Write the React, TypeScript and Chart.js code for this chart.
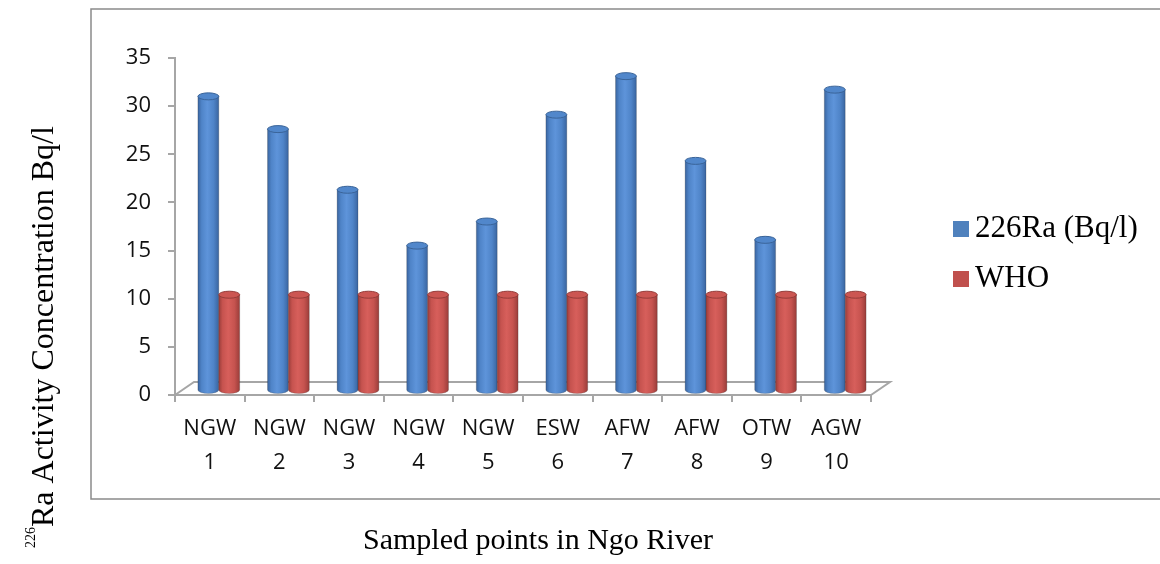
import React, { useEffect, useRef } from "react";
import { Chart, registerables } from "chart.js";

Chart.register(...registerables);

// Sampling points along the river (two-line category labels)
const sampleLabels: string[][] = [
  ["NGW", "1"], ["NGW", "2"], ["NGW", "3"], ["NGW", "4"], ["NGW", "5"],
  ["ESW", "6"], ["AFW", "7"], ["AFW", "8"], ["OTW", "9"], ["AGW", "10"],
];
// 226Ra activity concentration per point (Bq/l)
const ra226Values = [30.6, 27.2, 20.9, 15.1, 17.6, 28.7, 32.7, 23.9, 15.7, 31.3];
// WHO guidance level for each point (Bq/l)
const whoValues = [10, 10, 10, 10, 10, 10, 10, 10, 10, 10];
const seriesNames = ["226Ra (Bq/l)", "WHO"];
const yTickValues = [0, 5, 10, 15, 20, 25, 30, 35];
const xTitle = "Sampled points in Ngo River";
const yTitleSup = "226";
const yTitleMain = "Ra Activity Concentration Bq/l";

const SERIES_COLORS = ["#4F81BD", "#C0504D"];
const SHADES = [
  { dark: "#3a65a0", light: "#5e94da", mid: "#4f84c8", cap: "#5187cb", capEdge: "#3a6499" },
  { dark: "#9a3d3a", light: "#d75f5b", mid: "#c6534f", cap: "#cc5652", capEdge: "#953c39" },
];
const AXIS_COLOR = "#a6a6a6";
const FRAME_COLOR = "#8a8a8a";
const SERIF = "'Liberation Serif', 'Times New Roman', serif";
const SANS = "'Open Sans', 'Noto Sans', sans-serif";
const FLOOR_DX = 19;
const FLOOR_DY = 13;
const BAR_DX = 9;
const BAR_DY = -4;
const CAP_RY = 3.5;

// Outer frame, floor outline, cylinders, legend and axis titles
const decorPlugin = {
  id: "decor",
  beforeDraw(chart: any) {
    const ctx = chart.ctx;
    ctx.save();
    ctx.fillStyle = "#ffffff";
    ctx.fillRect(0, 0, chart.width, chart.height);
    ctx.strokeStyle = FRAME_COLOR;
    ctx.lineWidth = 1.5;
    ctx.strokeRect(91, 9, chart.width + 20, 490);
    ctx.restore();
  },
  beforeDatasetDraw() {
    return false;
  },
  afterDatasetsDraw(chart: any) {
    const ctx = chart.ctx;
    const { left, right, bottom } = chart.chartArea;
    // floor of the 3-D plot
    ctx.save();
    ctx.strokeStyle = AXIS_COLOR;
    ctx.lineWidth = 2;
    ctx.beginPath();
    ctx.moveTo(left, bottom);
    ctx.lineTo(left + FLOOR_DX, bottom - FLOOR_DY);
    ctx.lineTo(right + FLOOR_DX, bottom - FLOOR_DY);
    ctx.lineTo(right, bottom);
    ctx.stroke();
    ctx.restore();

    // cylinders
    chart.data.datasets.forEach((_ds: any, di: number) => {
      const meta = chart.getDatasetMeta(di);
      const shade = SHADES[di];
      meta.data.forEach((bar: any) => {
        const { x, y, base, width } = bar.getProps(["x", "y", "base", "width"], true);
        const cx = x + BAR_DX;
        const top = y + BAR_DY;
        const bot = base + BAR_DY;
        const rx = width / 2;
        ctx.save();
        const g = ctx.createLinearGradient(cx - rx, 0, cx + rx, 0);
        g.addColorStop(0, shade.dark);
        g.addColorStop(0.18, shade.mid);
        g.addColorStop(0.45, shade.light);
        g.addColorStop(0.75, shade.mid);
        g.addColorStop(1, shade.dark);
        ctx.beginPath();
        ctx.moveTo(cx - rx, top);
        ctx.lineTo(cx - rx, bot);
        ctx.ellipse(cx, bot, rx, CAP_RY, 0, Math.PI, 0, true);
        ctx.lineTo(cx + rx, top);
        ctx.closePath();
        ctx.fillStyle = g;
        ctx.fill();
        ctx.strokeStyle = "rgba(40,40,40,0.22)";
        ctx.lineWidth = 1;
        ctx.stroke();
        ctx.beginPath();
        ctx.ellipse(cx, top, rx, CAP_RY, 0, 0, Math.PI * 2);
        ctx.fillStyle = shade.cap;
        ctx.fill();
        ctx.strokeStyle = shade.capEdge;
        ctx.lineWidth = 1;
        ctx.stroke();
        ctx.restore();
      });
    });
  },
  afterDraw(chart: any) {
    const ctx = chart.ctx;
    ctx.save();
    // legend
    chart.data.datasets.forEach((ds: any, i: number) => {
      const y0 = 221 + i * 50;
      ctx.fillStyle = ds.backgroundColor;
      ctx.fillRect(953, y0, 16, 16);
      ctx.fillStyle = "#000000";
      ctx.font = `31px ${SERIF}`;
      ctx.textAlign = "left";
      ctx.textBaseline = "alphabetic";
      ctx.fillText(ds.label, 975, y0 + 16);
    });
    // x title
    ctx.font = `30px ${SERIF}`;
    ctx.textAlign = "center";
    ctx.fillText(xTitle, 538, 549);
    // y title with superscript
    ctx.translate(53, 548);
    ctx.rotate(-Math.PI / 2);
    ctx.textAlign = "left";
    ctx.font = `14px ${SERIF}`;
    ctx.fillText(yTitleSup, 0, -18);
    const supW = ctx.measureText(yTitleSup).width;
    ctx.font = `32px ${SERIF}`;
    ctx.fillText(yTitleMain, supW, 0);
    ctx.restore();
  },
};

export default function App() {
  const canvasRef = useRef<HTMLCanvasElement | null>(null);

  useEffect(() => {
    const canvas = canvasRef.current;
    if (!canvas) return;
    const chart = new Chart(canvas, {
      type: "bar",
      data: {
        labels: sampleLabels,
        datasets: [
          {
            label: seriesNames[0],
            data: ra226Values,
            backgroundColor: SERIES_COLORS[0],
            categoryPercentage: 0.6,
            barPercentage: 1.0,
          },
          {
            label: seriesNames[1],
            data: whoValues,
            backgroundColor: SERIES_COLORS[1],
            categoryPercentage: 0.6,
            barPercentage: 1.0,
          },
        ],
      },
      options: {
        animation: false,
        responsive: true,
        maintainAspectRatio: false,
        layout: { padding: { top: 58, right: 289, left: 0, bottom: 0 } },
        plugins: {
          legend: { display: false },
          tooltip: { enabled: false },
          title: { display: false },
        },
        scales: {
          x: {
            afterFit(scale: any) {
              scale.height = 169;
            },
            grid: {
              drawOnChartArea: false,
              offset: true,
              tickLength: 7,
              color: AXIS_COLOR,
              lineWidth: 2,
            },
            border: { color: AXIS_COLOR, width: 2 },
            ticks: {
              autoSkip: false,
              maxRotation: 0,
              minRotation: 0,
              padding: 10,
              color: "#111111",
              font: { family: SANS, size: 22, lineHeight: 1.55 },
            },
          },
          y: {
            min: 0,
            max: 35,
            afterFit(scale: any) {
              scale.width = 175;
            },
            afterBuildTicks(scale: any) {
              scale.ticks = yTickValues.map((v) => ({ value: v }));
            },
            grid: {
              drawOnChartArea: false,
              tickLength: 7,
              color: AXIS_COLOR,
              lineWidth: 2,
            },
            border: { color: AXIS_COLOR, width: 2 },
            ticks: {
              padding: 17,
              color: "#111111",
              font: { family: SANS, size: 22 },
            },
          },
        },
      },
      plugins: [decorPlugin],
    });
    return () => chart.destroy();
  }, []);

  return (
    <div
      style={{
        position: "fixed",
        left: 0,
        top: 0,
        width: 1160,
        height: 564,
        background: "#ffffff",
      }}
    >
      <canvas ref={canvasRef} />
    </div>
  );
}
